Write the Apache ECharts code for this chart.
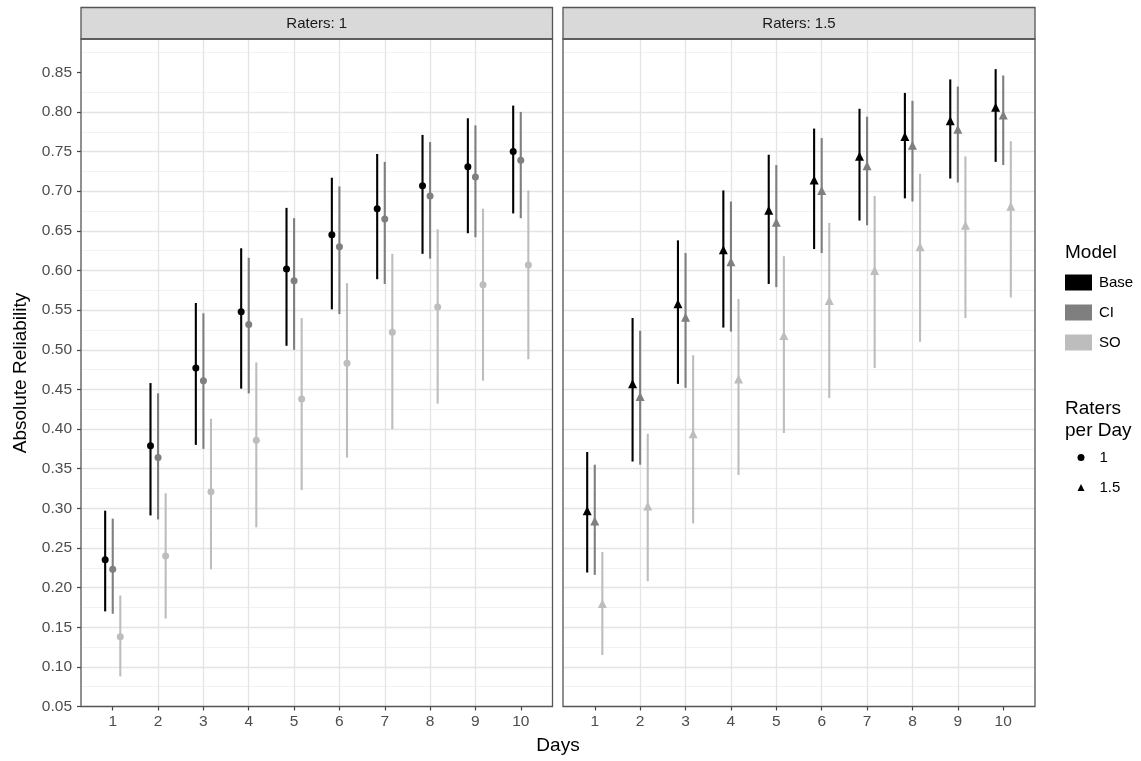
<!DOCTYPE html>
<html><head><meta charset="utf-8">
<script src="https://cdn.jsdelivr.net/npm/echarts@6/dist/echarts.min.js"></script>
<style>html,body{margin:0;padding:0;background:#fff}#c{width:1141px;height:761px}</style>
</head><body><div id="c"></div>
<script>
// ---------------- data ----------------
const days = [1, 2, 3, 4, 5, 6, 7, 8, 9, 10];
const yTickValues = [0.05, 0.10, 0.15, 0.20, 0.25, 0.30, 0.35, 0.40, 0.45, 0.50, 0.55, 0.60, 0.65, 0.70, 0.75, 0.80, 0.85];
const panelTitles = ['Raters: 1', 'Raters: 1.5'];
const models = ['Base', 'CI', 'SO'];
const raterLevels = ['1', '1.5'];

// Raters per day = 1
const r1BaseMid = [0.235, 0.379, 0.477, 0.548, 0.602, 0.645, 0.678, 0.707, 0.731, 0.750];
const r1BaseLo  = [0.170, 0.291, 0.380, 0.451, 0.505, 0.551, 0.589, 0.621, 0.647, 0.672];
const r1BaseHi  = [0.297, 0.458, 0.559, 0.628, 0.679, 0.717, 0.747, 0.771, 0.792, 0.808];
const r1CIMid   = [0.223, 0.364, 0.461, 0.532, 0.587, 0.630, 0.665, 0.694, 0.718, 0.739];
const r1CILo    = [0.167, 0.286, 0.375, 0.445, 0.500, 0.545, 0.583, 0.615, 0.642, 0.666];
const r1CIHi    = [0.287, 0.445, 0.546, 0.616, 0.666, 0.706, 0.737, 0.762, 0.783, 0.800];
const r1SOMid   = [0.138, 0.240, 0.321, 0.386, 0.438, 0.483, 0.522, 0.554, 0.582, 0.607];
const r1SOLo    = [0.088, 0.161, 0.223, 0.276, 0.323, 0.364, 0.400, 0.432, 0.461, 0.488];
const r1SOHi    = [0.190, 0.319, 0.413, 0.484, 0.540, 0.584, 0.621, 0.652, 0.678, 0.701];

// Raters per day = 1.5
const r15BaseMid = [0.297, 0.457, 0.558, 0.626, 0.676, 0.714, 0.744, 0.769, 0.789, 0.806];
const r15BaseLo  = [0.219, 0.359, 0.457, 0.528, 0.583, 0.627, 0.663, 0.691, 0.716, 0.737];
const r15BaseHi  = [0.371, 0.540, 0.638, 0.701, 0.746, 0.779, 0.804, 0.824, 0.841, 0.854];
const r15CIMid   = [0.284, 0.441, 0.541, 0.611, 0.661, 0.701, 0.732, 0.758, 0.778, 0.796];
const r15CILo    = [0.216, 0.355, 0.452, 0.523, 0.579, 0.622, 0.657, 0.687, 0.711, 0.733];
const r15CIHi    = [0.355, 0.524, 0.622, 0.687, 0.733, 0.767, 0.794, 0.814, 0.832, 0.846];
const r15SOMid   = [0.180, 0.303, 0.394, 0.463, 0.518, 0.562, 0.600, 0.630, 0.657, 0.681];
const r15SOLo    = [0.115, 0.208, 0.281, 0.342, 0.395, 0.439, 0.477, 0.510, 0.540, 0.566];
const r15SOHi    = [0.245, 0.394, 0.493, 0.564, 0.618, 0.660, 0.694, 0.722, 0.744, 0.763];

// ---------------- assembly ----------------
const panelData = [
  { Base: [r1BaseMid, r1BaseLo, r1BaseHi], CI: [r1CIMid, r1CILo, r1CIHi], SO: [r1SOMid, r1SOLo, r1SOHi] },
  { Base: [r15BaseMid, r15BaseLo, r15BaseHi], CI: [r15CIMid, r15CILo, r15CIHi], SO: [r15SOMid, r15SOLo, r15SOHi] }
];
const modelColor = { Base: '#000000', CI: '#7f7f7f', SO: '#bdbdbd' };
const dodge = { Base: -0.167, CI: 0, SO: 0.167 };
const symbols = ['circle', 'triangle'];
const symbolSizes = [7, 9];
const FONT = '"Liberation Sans", Arial, sans-serif';
const BORDER = '#555555';

const gridPos = [
  { left: 81, top: 39, width: 471.5, height: 667.5 },
  { left: 563, top: 39, width: 472, height: 667.5 }
];

const grids = gridPos.map(g => Object.assign({
  show: true, borderWidth: 0, backgroundColor: '#ffffff', containLabel: false
}, g));

const xAxes = gridPos.map((g, i) => ({
  gridIndex: i, type: 'value', min: 0.3, max: 10.7, splitNumber: 10,
  axisLine: { show: false },
  axisTick: { show: true, length: 4, customValues: days, lineStyle: { color: '#444', width: 1.2 } },
  axisLabel: {
    color: '#4d4d4d', fontSize: 15.5, fontFamily: FONT, margin: 7, customValues: days,
    formatter: v => (Math.abs(v - Math.round(v)) < 1e-6 ? String(Math.round(v)) : '')
  },
  splitLine: { show: true, showMinLine: false, showMaxLine: false, lineStyle: { color: '#e4e4e4', width: 1.3 } }
}));

const yAxes = gridPos.map((g, i) => ({
  gridIndex: i, type: 'value', min: 0.05, max: 0.892, interval: 0.05,
  axisLine: { show: false },
  axisTick: { show: i === 0, length: 4, customValues: yTickValues, lineStyle: { color: '#444', width: 1.2 } },
  axisLabel: {
    show: i === 0, color: '#4d4d4d', fontSize: 15.5, fontFamily: FONT, margin: 9, customValues: yTickValues,
    formatter: v => { const k = Math.round(v * 20); return Math.abs(v * 20 - k) < 1e-6 ? (k / 20).toFixed(2) : ''; }
  },
  splitLine: { show: true, showMinLine: false, showMaxLine: false, lineStyle: { color: '#e4e4e4', width: 1.3 } },
  minorTick: { show: false, splitNumber: 2 },
  minorSplitLine: { show: true, lineStyle: { color: '#f2f2f2', width: 1 } }
}));

const series = [];
panelData.forEach((pd, p) => {
  models.forEach(m => {
    const [mid, lo, hi] = pd[m];
    series.push({
      type: 'custom', name: m, xAxisIndex: p, yAxisIndex: p, z: 2,
      itemStyle: { color: modelColor[m] },
      data: days.map((d, i) => [d + dodge[m], lo[i], hi[i]]),
      renderItem: (params, api) => {
        const a = api.coord([api.value(0), api.value(1)]);
        const b = api.coord([api.value(0), api.value(2)]);
        return { type: 'line', shape: { x1: a[0], y1: a[1], x2: b[0], y2: b[1] },
                 style: { stroke: modelColor[m], lineWidth: 2.1 } };
      }
    });
  });
  const pts = [];
  models.forEach(m => {
    const mid = pd[m][0];
    days.forEach((d, i) => pts.push({ value: [d + dodge[m], mid[i]], itemStyle: { color: modelColor[m] } }));
  });
  series.push({
    type: 'scatter', name: raterLevels[p], xAxisIndex: p, yAxisIndex: p, z: 3,
    symbol: symbols[p], symbolSize: symbolSizes[p], itemStyle: { color: '#000', opacity: 1 },
    data: pts, silent: true
  });
});

const graphics = [];
gridPos.forEach((g, i) => {
  graphics.push({
    type: 'rect', shape: { x: g.left, y: g.top, width: g.width, height: g.height },
    style: { fill: 'none', stroke: BORDER, lineWidth: 1.3 }, z: 20, silent: true
  });
  graphics.push({
    type: 'rect', shape: { x: g.left, y: 7.5, width: g.width, height: 31.5 },
    style: { fill: '#d9d9d9', stroke: BORDER, lineWidth: 1.3 }, z: 10
  });
  graphics.push({
    type: 'text', x: g.left + g.width / 2, y: 23.5, z: 11,
    style: { text: panelTitles[i], fill: '#1a1a1a', font: '15px ' + FONT, align: 'center', verticalAlign: 'middle' }
  });
});
graphics.push({
  type: 'text', x: 558, y: 746, z: 11,
  style: { text: 'Days', fill: '#000', font: '19px ' + FONT, align: 'center', verticalAlign: 'middle' }
});
graphics.push({
  type: 'text', x: 21, y: 373, rotation: Math.PI / 2, z: 11,
  style: { text: 'Absolute Reliability', fill: '#000', font: '19px ' + FONT, align: 'center', verticalAlign: 'middle' }
});
graphics.push({
  type: 'text', x: 1065, y: 253, z: 11,
  style: { text: 'Model', fill: '#000', font: '19px ' + FONT, align: 'left', verticalAlign: 'middle' }
});
graphics.push({
  type: 'text', x: 1065, y: 409, z: 11,
  style: { text: 'Raters', fill: '#000', font: '19px ' + FONT, align: 'left', verticalAlign: 'middle' }
});
graphics.push({
  type: 'text', x: 1065, y: 431, z: 11,
  style: { text: 'per Day', fill: '#000', font: '19px ' + FONT, align: 'left', verticalAlign: 'middle' }
});

const option = {
  animation: false,
  backgroundColor: '#ffffff',
  grid: grids,
  xAxis: xAxes,
  yAxis: yAxes,
  series: series,
  legend: [
    {
      orient: 'vertical', left: 1065, top: 274.5, padding: 0, itemWidth: 27, itemHeight: 16, itemGap: 14,
      selectedMode: false, icon: 'rect',
      textStyle: { fontSize: 15, fontFamily: FONT, color: '#000', padding: [0, 0, 0, 2] },
      data: models.map(m => ({ name: m, icon: 'rect', itemStyle: { color: modelColor[m] } }))
    },
    {
      orient: 'vertical', left: 1077.5, top: 450, padding: 0, itemWidth: 7, itemHeight: 7, itemGap: 15,
      selectedMode: false, symbolKeepAspect: true,
      textStyle: { fontSize: 15, fontFamily: FONT, color: '#000', padding: [0, 0, 0, 10] },
      data: raterLevels.map((r, i) => ({ name: r, icon: symbols[i], itemStyle: { color: '#000' } }))
    }
  ],
  graphic: graphics
};

const chart = echarts.init(document.getElementById('c'), null, { renderer: 'canvas' });
chart.setOption(option);
</script>
</body></html>
